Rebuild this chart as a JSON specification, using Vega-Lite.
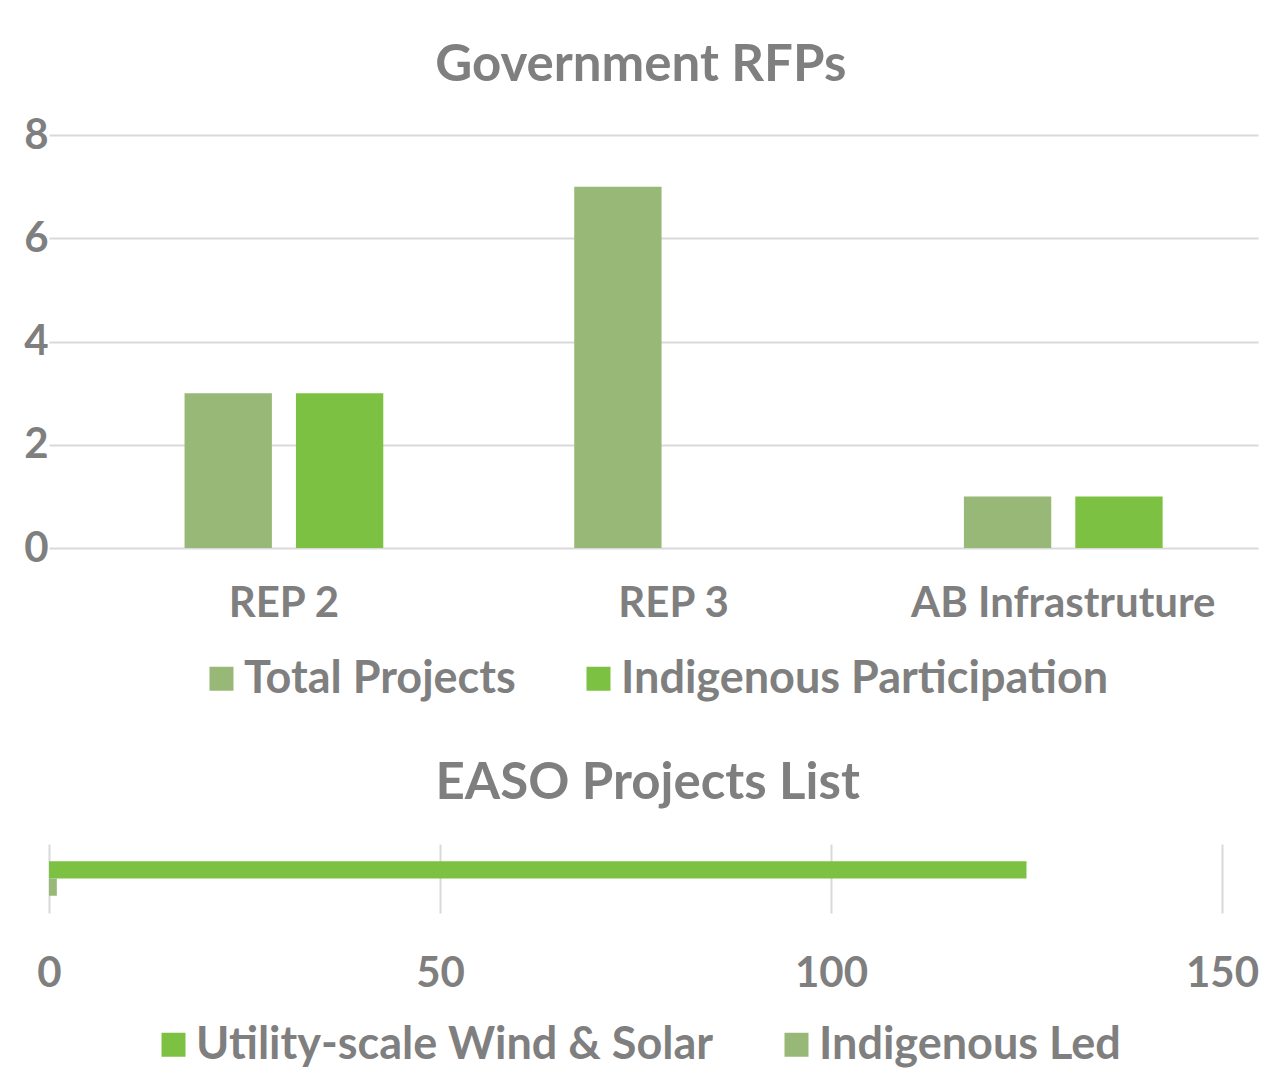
{
  "$schema": "https://vega.github.io/schema/vega-lite/v6.json",
  "padding": {"left": 23, "top": 40, "right": 10, "bottom": 10},
  "background": "white",
  "columns": 1,
  "align": "none",
  "spacing": 56,
  "resolve": {"scale": {"color": "independent", "x": "independent", "y": "independent"}, "legend": {"color": "independent"}},
  "config": {
    "font": "Lato",
    "view": {"stroke": null},
    "title": {"color": "#7f7f7f", "font": "Lato", "fontWeight": "bold", "fontSize": 51, "anchor": "middle", "frame": "bounds"},
    "axis": {"labelColor": "#7f7f7f", "labelFont": "Lato", "labelFontWeight": "bold", "gridColor": "#d9d9d9", "gridWidth": 2, "domain": false, "ticks": false, "labelFlush": false},
    "legend": {"labelColor": "#7f7f7f", "labelFont": "Lato", "labelFontWeight": "bold", "labelFontSize": 45, "symbolType": "square", "symbolSize": 576, "symbolStrokeWidth": 0, "symbolOpacity": 1, "orient": "bottom", "direction": "horizontal", "title": null, "columnPadding": 60, "labelOffset": 0, "labelLimit": 0, "layout": {"bottom": {"anchor": "middle"}}}
  },
  "concat": [
    {
      "title": {"text": "Government RFPs", "offset": 22},
      "width": 1209,
      "height": 413,
      "data": {"values": [
        {"program": "REP 2", "series": "Total Projects", "count": 3},
        {"program": "REP 2", "series": "Indigenous Participation", "count": 3},
        {"program": "REP 3", "series": "Total Projects", "count": 7},
        {"program": "REP 3", "series": "Indigenous Participation", "count": 0},
        {"program": "AB Infrastruture", "series": "Total Projects", "count": 1},
        {"program": "AB Infrastruture", "series": "Indigenous Participation", "count": 1}
      ]},
      "mark": {"type": "bar"},
      "encoding": {
        "x": {"field": "program", "type": "nominal", "sort": ["REP 2", "REP 3", "AB Infrastruture"], "scale": {"paddingInner": 0.49, "paddingOuter": 0.2963, "align": 0.587}, "axis": {"title": null, "labelAngle": 0, "labelFontSize": 42, "labelPadding": 35, "labelLimit": 0}},
        "xOffset": {"field": "series", "type": "nominal", "sort": ["Total Projects", "Indigenous Participation"], "scale": {"paddingInner": 0.216, "paddingOuter": 0}},
        "y": {"field": "count", "type": "quantitative", "scale": {"domain": [0, 8]}, "axis": {"title": null, "values": [0, 2, 4, 6, 8], "labelFontSize": 42, "labelPadding": 1, "grid": true}},
        "color": {"field": "series", "type": "nominal", "sort": ["Total Projects", "Indigenous Participation"], "scale": {"domain": ["Total Projects", "Indigenous Participation"], "range": ["#98B877", "#7DC142"]}, "legend": {"offset": 32}}
      }
    },
    {
      "title": {"text": "EASO Projects List", "offset": 34},
      "width": 1173,
      "height": 69,
      "data": {"values": [
        {"series": "Utility-scale Wind & Solar", "projects": 125},
        {"series": "Indigenous Led", "projects": 1}
      ]},
      "mark": {"type": "bar"},
      "encoding": {
        "y": {"field": "series", "type": "nominal", "sort": ["Utility-scale Wind & Solar", "Indigenous Led"], "scale": {"paddingInner": 0, "paddingOuter": 1.03}, "axis": null},
        "x": {"field": "projects", "type": "quantitative", "scale": {"domain": [0, 150]}, "axis": {"title": null, "values": [0, 50, 100, 150], "labelFontSize": 42, "labelPadding": 40, "grid": true}},
        "color": {"field": "series", "type": "nominal", "sort": ["Utility-scale Wind & Solar", "Indigenous Led"], "scale": {"domain": ["Utility-scale Wind & Solar", "Indigenous Led"], "range": ["#7DC142", "#98B877"]}, "legend": {"offset": 28}}
      }
    }
  ]
}
